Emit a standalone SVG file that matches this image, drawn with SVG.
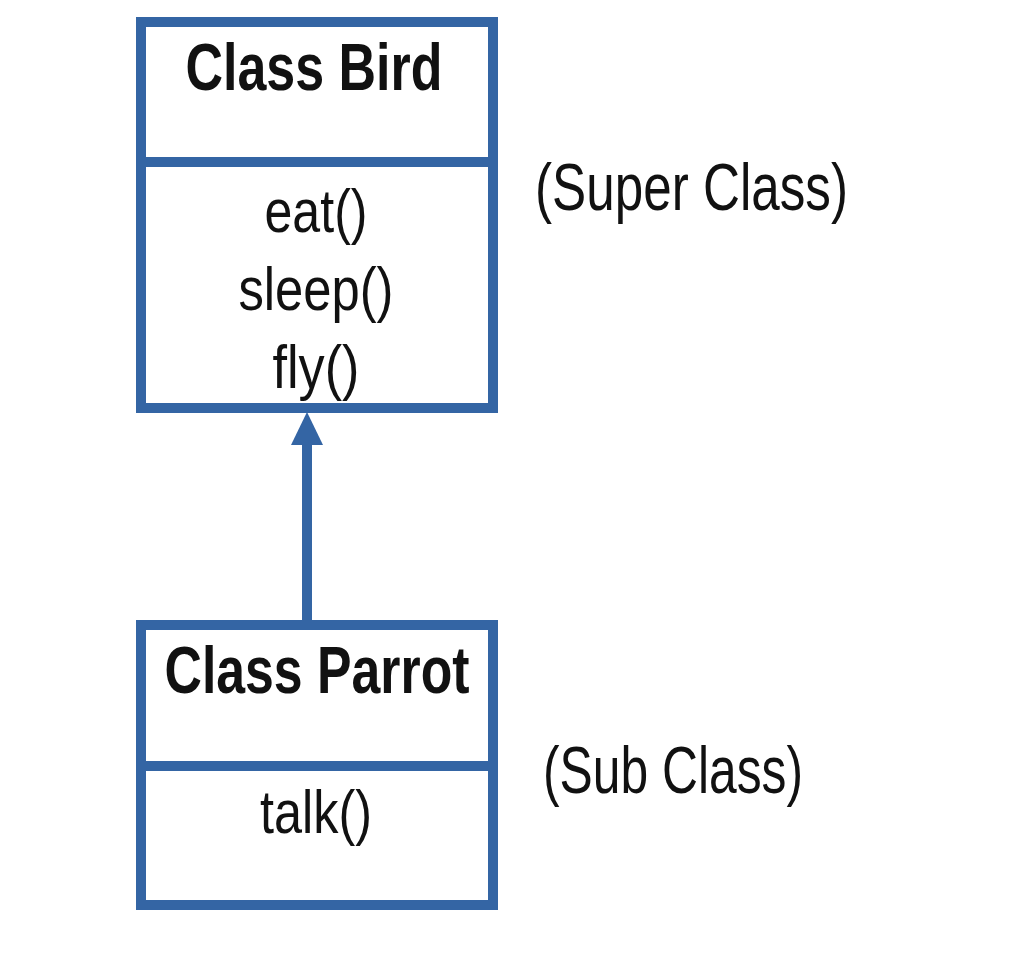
<svg xmlns="http://www.w3.org/2000/svg" width="1033" height="965" viewBox="0 0 1033 965">
  <style>
    .box { fill: #ffffff; stroke: #3465a4; stroke-width: 10; }
    .div { stroke: #3465a4; stroke-width: 10; }
    .title { font-family: "Liberation Sans", Arial, sans-serif; font-weight: bold; font-size: 66px; fill: #111111; text-anchor: middle; }
    .meth { font-family: "Liberation Sans", Arial, sans-serif; font-size: 62px; fill: #111111; text-anchor: middle; }
    .note { font-family: "Liberation Sans", Arial, sans-serif; font-size: 66px; fill: #111111; }
    .conn { stroke: #3465a4; stroke-width: 10; fill: none; }
  </style>
  <defs>
    <marker id="tri" markerUnits="userSpaceOnUse" markerWidth="34" markerHeight="34" refX="0" refY="16" orient="auto" viewBox="0 0 34 34">
      <path d="M0,0 L33,16 L0,32 z" fill="#3465a4"/>
    </marker>
  </defs>
  <rect width="1033" height="965" fill="#ffffff"/>

  <g id="connectors">
    <line class="conn" x1="307" y1="621" x2="307" y2="445" marker-end="url(#tri)"/>
  </g>

  <g id="bird">
    <rect class="box" x="141" y="22" width="352" height="386"/>
    <line class="div" x1="141" y1="162" x2="493" y2="162"/>
    <text class="title" x="314" y="90" textLength="257" lengthAdjust="spacingAndGlyphs">Class Bird</text>
    <text class="meth" x="316" y="232" textLength="103" lengthAdjust="spacingAndGlyphs">eat()</text>
    <text class="meth" x="316" y="310" textLength="155" lengthAdjust="spacingAndGlyphs">sleep()</text>
    <text class="meth" x="316" y="388" textLength="87" lengthAdjust="spacingAndGlyphs">fly()</text>
  </g>

  <g id="parrot">
    <rect class="box" x="141" y="625" width="352" height="280"/>
    <line class="div" x1="141" y1="766" x2="493" y2="766"/>
    <text class="title" x="317" y="693" textLength="305" lengthAdjust="spacingAndGlyphs">Class Parrot</text>
    <text class="meth" x="316" y="833" textLength="112" lengthAdjust="spacingAndGlyphs">talk()</text>
  </g>

  <g id="superLabel">
    <text class="note" x="535" y="210" textLength="313" lengthAdjust="spacingAndGlyphs">(Super Class)</text>
  </g>
  <g id="subLabel">
    <text class="note" x="543" y="793" textLength="260" lengthAdjust="spacingAndGlyphs">(Sub Class)</text>
  </g>
</svg>
